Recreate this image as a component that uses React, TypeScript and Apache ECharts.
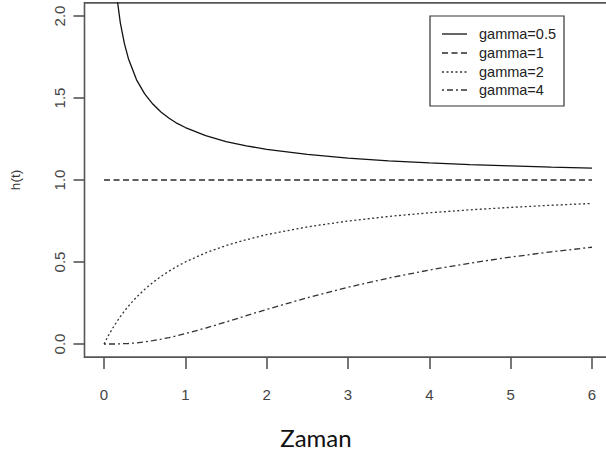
import React, { useEffect, useRef } from "react";
import * as echarts from "echarts";

// Time grid (t) and hazard values h(t) for each shape parameter
const timePoints = [0, 0.05, 0.1, 0.15, 0.2, 0.25, 0.3, 0.4, 0.5, 0.6, 0.7, 0.8, 0.9, 1, 1.25, 1.5, 1.75, 2, 2.5, 3, 3.5, 4, 4.5, 5, 5.5, 6];
const hazardGamma05 = [null, 3.192, 2.466, 2.147, 1.96, 1.833, 1.74, 1.611, 1.525, 1.463, 1.415, 1.377, 1.345, 1.32, 1.27, 1.234, 1.208, 1.187, 1.156, 1.134, 1.117, 1.104, 1.094, 1.086, 1.079, 1.073];
const hazardGamma1 = [1, 1, 1, 1, 1, 1, 1, 1, 1, 1, 1, 1, 1, 1, 1, 1, 1, 1, 1, 1, 1, 1, 1, 1, 1, 1];
const hazardGamma2 = [0, 0.048, 0.091, 0.13, 0.167, 0.2, 0.231, 0.286, 0.333, 0.375, 0.412, 0.444, 0.474, 0.5, 0.556, 0.6, 0.636, 0.667, 0.714, 0.75, 0.778, 0.8, 0.818, 0.833, 0.846, 0.857];
const hazardGamma4 = [0, 0, 0, 0, 0.001, 0.002, 0.003, 0.007, 0.013, 0.02, 0.029, 0.039, 0.05, 0.063, 0.097, 0.134, 0.173, 0.211, 0.282, 0.346, 0.402, 0.451, 0.493, 0.53, 0.562, 0.59];

const seriesNames = ["gamma=0.5", "gamma=1", "gamma=2", "gamma=4"];
const xTicks = [0, 1, 2, 3, 4, 5, 6];
const yTicks = [0, 0.5, 1, 1.5, 2];
const xAxisTitle = "Zaman";
const yAxisTitle = "h(t)";

const tickFont = "'Liberation Sans', Arial, sans-serif";
const lineColors = ["#111111", "#2b2b2b", "#333333", "#333333"];
const lineDashes: (string | number[])[] = ["solid", [6, 3.5], [2, 2.5], [2, 3, 6, 3]];

export default function App() {
  const ref = useRef<HTMLDivElement>(null);

  useEffect(() => {
    if (!ref.current) return;
    const chart = echarts.init(ref.current, undefined, { renderer: "svg" });

    const allValues = [hazardGamma05, hazardGamma1, hazardGamma2, hazardGamma4];

    const series = allValues.map((vals, i) => ({
      name: seriesNames[i],
      type: "line" as const,
      data: timePoints.map((t, j) => [t, vals[j]]),
      showSymbol: false,
      symbol: "none",
      clip: true,
      connectNulls: false,
      lineStyle: { color: lineColors[i], width: 1.3, type: lineDashes[i] as any },
    }));

    // Legend box, drawn by hand in the top-right corner
    const legendLeft = 430;
    const legendTop = 16;
    const rowY = [34, 53, 72, 90];
    const legendGraphics: any[] = [
      {
        type: "rect",
        shape: { x: legendLeft, y: legendTop, width: 134, height: 90 },
        style: { fill: "#ffffff", stroke: "#333333", lineWidth: 1.2 },
        z: 10,
      },
    ];
    seriesNames.forEach((name, i) => {
      legendGraphics.push({
        type: "line",
        shape: { x1: 442, y1: rowY[i], x2: 467, y2: rowY[i] },
        style: {
          stroke: lineColors[i],
          lineWidth: 1.3,
          lineDash: lineDashes[i] === "solid" ? null : lineDashes[i],
        },
        z: 11,
      });
      legendGraphics.push({
        type: "text",
        x: 479,
        y: rowY[i],
        style: {
          text: name,
          font: "14.5px 'Liberation Sans', Arial, sans-serif",
          fill: "#222222",
          textAlign: "left",
          textVerticalAlign: "middle",
        },
        z: 11,
      });
    });

    chart.setOption({
      animation: false,
      backgroundColor: "#ffffff",
      grid: {
        left: 84.5,
        top: 2.9,
        width: 527,
        height: 354.2,
        show: true,
        borderColor: "#555555",
        borderWidth: 1.6,
        containLabel: false,
      },
      xAxis: {
        type: "value",
        min: -0.24,
        max: 6.24,
        axisLine: { show: false, onZero: false },
        splitLine: { show: false },
        axisTick: {
          show: true,
          customValues: xTicks,
          length: 12,
          inside: false,
          lineStyle: { color: "#555555", width: 1.6 },
        },
        axisLabel: {
          customValues: xTicks,
          margin: 30,
          fontFamily: tickFont,
          fontSize: 15,
          color: "#444444",
          formatter: (v: number) => String(v),
        },
      },
      yAxis: {
        type: "value",
        min: -0.08,
        max: 2.08,
        name: yAxisTitle,
        nameLocation: "middle",
        nameRotate: 90,
        nameGap: 62,
        nameTextStyle: { fontFamily: "'Liberation Sans', Arial, sans-serif", fontSize: 13.5, color: "#333333" },
        axisLine: { show: false, onZero: false },
        splitLine: { show: false },
        axisTick: {
          show: true,
          customValues: yTicks,
          length: 11,
          inside: false,
          lineStyle: { color: "#555555", width: 1.6 },
        },
        axisLabel: {
          customValues: yTicks,
          rotate: 90,
          margin: 18,
          fontFamily: tickFont,
          fontSize: 15,
          color: "#444444",
          formatter: (v: number) => v.toFixed(1),
        },
      },
      graphic: [
        {
          type: "text",
          x: 316,
          y: 437,
          style: {
            text: xAxisTitle,
            font: "24px Lato, 'Open Sans', sans-serif",
            fill: "#111111",
            textAlign: "center",
            textVerticalAlign: "middle",
          },
        },
        ...legendGraphics,
      ],
      series,
    });

    return () => chart.dispose();
  }, []);

  return (
    <div style={{ position: "absolute", left: 0, top: 0, width: 606, height: 452, overflow: "hidden", background: "#fff" }}>
      <div ref={ref} style={{ width: 614, height: 452 }} />
    </div>
  );
}
